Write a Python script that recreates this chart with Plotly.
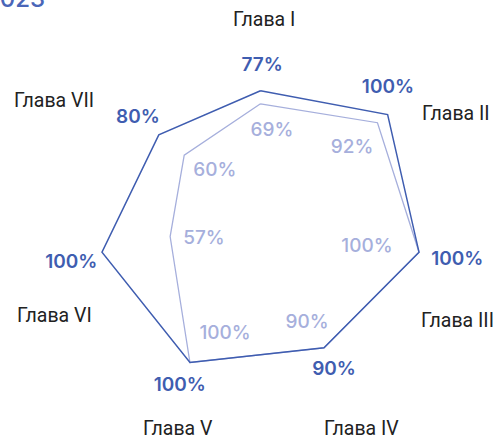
import plotly.graph_objects as go

# Chapter scores for two years
chapters = ["Глава I", "Глава II", "Глава III", "Глава IV", "Глава V", "Глава VI", "Глава VII"]
outer_values = [77, 100, 100, 90, 100, 100, 80]
inner_values = [69, 92, 100, 90, 100, 57, 60]

DARK = "#3f5db0"
LIGHT = "#a6afdc"
W, H = 497, 439

n = len(chapters)
step = 360 / n
angles = [i * step for i in range(n)]

# Label placement: radial offset (in % units) and angular offset (deg) per chapter
outer_dr = [15, 11, 24, 15, 16, 20, 16.5]
outer_dt = [0.6, -6.5, -0.3, 0.2, -0.4, -1.3, 0.1]
inner_dr = [-16.2, -21.9, -31.8, -18.2, -24.2, -19.5, -20.6]
inner_dt = [7.7, 2.0, 3.3, 2.2, -9.0, -9.2, 6.1]

# Chapter name positions in pixels (centre of text)
name_px = [(264, 20), (456, 113), (457, 320), (361, 428), (178, 428), (54, 315), (54, 100)]

fig = go.Figure()


def closed(seq):
    return list(seq) + [seq[0]]


fig.add_trace(go.Scatterpolar(
    r=closed(inner_values), theta=closed(angles), mode="lines",
    line=dict(color=LIGHT, width=1.3), hoverinfo="skip", showlegend=False,
))
fig.add_trace(go.Scatterpolar(
    r=closed(outer_values), theta=closed(angles), mode="lines",
    line=dict(color=DARK, width=1.5), hoverinfo="skip", showlegend=False,
))

fig.add_trace(go.Scatterpolar(
    r=[v + d for v, d in zip(outer_values, outer_dr)],
    theta=[a + d for a, d in zip(angles, outer_dt)],
    mode="text", text=[f"{v}%" for v in outer_values],
    textfont=dict(family="Inter", size=19, color=DARK, weight=600),
    cliponaxis=False, hoverinfo="skip", showlegend=False,
))
fig.add_trace(go.Scatterpolar(
    r=[v + d for v, d in zip(inner_values, inner_dr)],
    theta=[a + d for a, d in zip(angles, inner_dt)],
    mode="text", text=[f"{v}%" for v in inner_values],
    textfont=dict(family="Inter", size=19, color=LIGHT, weight=500),
    cliponaxis=False, hoverinfo="skip", showlegend=False,
))

annotations = []
for name, (px, py) in zip(chapters, name_px):
    annotations.append(dict(
        text=name, x=px / W, y=1 - py / H, xref="paper", yref="paper",
        showarrow=False, xanchor="center", yanchor="middle",
        font=dict(family="Roboto", size=19.5, color="#222222"),
    ))
annotations.append(dict(
    text="2023", x=47 / W, y=1 + 1 / H, xref="paper", yref="paper",
    showarrow=False, xanchor="right", yanchor="middle",
    font=dict(family="Inter", size=24, color="#4a66b8", weight=500),
))

# Radial scale: 100% maps to R pixels; the range extends past 100 so the
# value labels outside the polygon stay inside the plotting area.
cx, cy, R = 260.5, 216, 162.6
r_max = 130
Rp = R * r_max / 100
fig.update_layout(
    width=W, height=H,
    margin=dict(l=0, r=0, t=0, b=0),
    paper_bgcolor="white",
    polar=dict(
        domain=dict(x=[(cx - Rp) / W, (cx + Rp) / W], y=[(H - cy - Rp) / H, (H - cy + Rp) / H]),
        bgcolor="white",
        angularaxis=dict(rotation=90, direction="clockwise", visible=False,
                         thetaunit="degrees", type="linear"),
        radialaxis=dict(range=[0, r_max], visible=False),
    ),
    annotations=annotations,
    showlegend=False,
)

fig.write_html("out.html")
